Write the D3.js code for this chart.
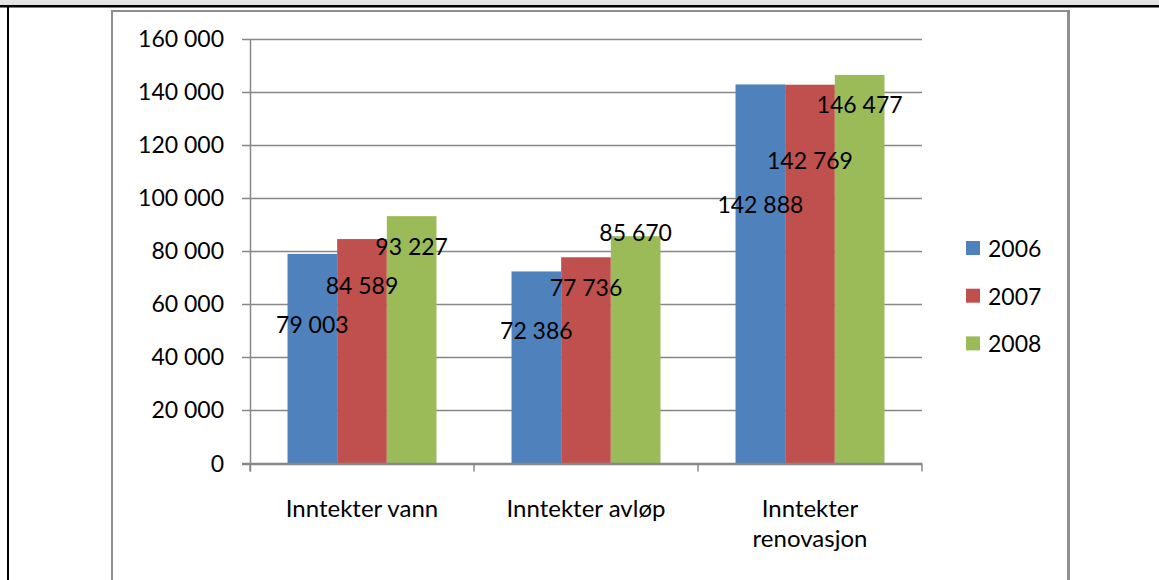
<!DOCTYPE html>
<html>
<head>
<meta charset="utf-8">
<script src="https://cdn.jsdelivr.net/npm/d3@7"></script>
<style>
  html, body { margin: 0; padding: 0; background: #fff; }
  svg text { font-family: Lato, "Open Sans", sans-serif; fill: #000; }
</style>
</head>
<body>
<svg id="chart" width="1159" height="580"></svg>
<script>
// ---- data ----
const categories = ["Inntekter vann", "Inntekter avløp", "Inntekter renovasjon"];
const seriesNames = ["2006", "2007", "2008"];
const values2006 = [79003, 72386, 142888];
const values2007 = [84589, 77736, 142769];
const values2008 = [93227, 85670, 146477];
const yTicks = [0, 20000, 40000, 60000, 80000, 100000, 120000, 140000, 160000];

// ---- layout / style (not data) ----
const colors = ["#4F81BD", "#C0504D", "#9BBB59"];
// label baseline offsets below bar top, in px, per series per category
const labelOffsets = [[79, 68, 129], [55, 39, 84], [39, 5, 38]];
const FS = 23;

const series = [values2006, values2007, values2008];
const svg = d3.select("#chart");
const W = 1159, H = 580;

// outer frame
svg.append("rect").attr("x", 0).attr("y", 0).attr("width", W).attr("height", 6).attr("fill", "#e3e3e3");
svg.append("rect").attr("x", 0).attr("y", 5).attr("width", W).attr("height", 2.5).attr("fill", "#000");
svg.append("rect").attr("x", 7).attr("y", 5).attr("width", 2).attr("height", H).attr("fill", "#000");
// chart area border
svg.append("rect").attr("x", 111).attr("y", 10).attr("width", 2).attr("height", H).attr("fill", "#8e8e8e");
svg.append("rect").attr("x", 111).attr("y", 10).attr("width", 958).attr("height", 2).attr("fill", "#8e8e8e");
svg.append("rect").attr("x", 1067).attr("y", 10).attr("width", 3).attr("height", H).attr("fill", "#8e8e8e");

const x0 = 250, x1 = 922, yTop = 39, yBot = 463.5;
const fmt = d3.formatLocale({decimal: ",", thousands: " ", grouping: [3], currency: ["", ""]}).format(",d");

const x = d3.scaleBand().domain(categories).range([x0, x1]).paddingInner(0.335).paddingOuter(0.1675);
const xs = d3.scaleBand().domain(seriesNames).range([0, x.bandwidth()]);
const y = d3.scaleLinear().domain([0, 160000]).range([yBot, yTop]);
const gridColor = "#878787";

// gridlines
svg.append("g").selectAll("line").data(yTicks).join("line")
  .attr("x1", x0 - 8).attr("x2", x1)
  .attr("y1", d => Math.round(y(d)) + 0.5).attr("y2", d => Math.round(y(d)) + 0.5)
  .attr("stroke", gridColor).attr("stroke-width", 1.5);

// y tick labels
svg.append("g").selectAll("text").data(yTicks).join("text")
  .attr("x", x0 - 26).attr("y", d => y(d) + 8)
  .attr("text-anchor", "end").attr("font-size", FS)
  .text(d => fmt(d));

// bars
const groups = svg.append("g").selectAll("g").data(categories).join("g")
  .attr("transform", c => `translate(${x(c)},0)`);
groups.selectAll("rect").data((c, i) => seriesNames.map((s, j) => ({s, j, v: series[j][i]})))
  .join("rect")
  .attr("x", d => xs(d.s)).attr("width", xs.bandwidth())
  .attr("y", d => y(d.v)).attr("height", d => yBot - y(d.v))
  .attr("fill", d => colors[d.j]);

// axes lines
const stepX = x.step();
svg.append("line").attr("x1", x0 + 0.5).attr("x2", x0 + 0.5).attr("y1", yTop).attr("y2", yBot + 8)
  .attr("stroke", gridColor).attr("stroke-width", 1.5);
svg.append("line").attr("x1", x0 - 8).attr("x2", x1).attr("y1", yBot).attr("y2", yBot)
  .attr("stroke", gridColor).attr("stroke-width", 1.5);
svg.append("g").selectAll("line").data(d3.range(categories.length + 1)).join("line")
  .attr("x1", i => x0 + i * stepX).attr("x2", i => x0 + i * stepX)
  .attr("y1", yBot).attr("y2", yBot + 8)
  .attr("stroke", gridColor).attr("stroke-width", 1.5);

// data labels
groups.selectAll("text.lbl").data((c, i) => seriesNames.map((s, j) => ({s, j, i, v: series[j][i]})))
  .join("text").attr("class", "lbl")
  .attr("x", d => xs(d.s) + xs.bandwidth() / 2)
  .attr("y", d => y(d.v) + labelOffsets[d.j][d.i])
  .attr("text-anchor", "middle").attr("font-size", FS)
  .text(d => fmt(d.v));

// category labels (wrapped)
svg.append("g").selectAll("text").data(categories).join("text")
  .attr("x", c => x(c) + x.bandwidth() / 2).attr("y", yBot + 53.5)
  .attr("text-anchor", "middle").attr("font-size", 24)
  .each(function(c) {
    const t = d3.select(this);
    const words = c.split(" ");
    let line = [], lines = [];
    words.forEach(w => {
      const test = line.concat(w).join(" ");
      t.text(test);
      if (this.getComputedTextLength() > 190 && line.length) { lines.push(line.join(" ")); line = [w]; }
      else line.push(w);
    });
    lines.push(line.join(" "));
    t.text(null);
    lines.forEach((l, k) => t.append("tspan").attr("x", x(c) + x.bandwidth() / 2).attr("dy", k ? 30 : 0).text(l));
  });

// legend
const legend = svg.append("g").selectAll("g").data(seriesNames).join("g")
  .attr("transform", (s, j) => `translate(966,${241 + j * 47.7})`);
legend.append("rect").attr("width", 14).attr("height", 14).attr("fill", (s, j) => colors[j]);
legend.append("text").attr("x", 22).attr("y", 16).attr("font-size", FS).text(s => s);
</script>
</body>
</html>
